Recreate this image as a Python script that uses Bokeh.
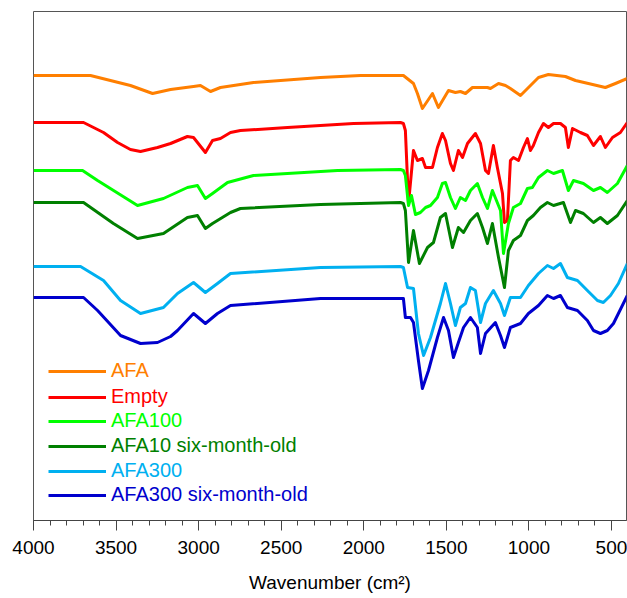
from bokeh.plotting import figure
from bokeh.models import Range1d, SingleIntervalTicker, Legend, LegendItem
from bokeh.embed import file_html
from bokeh.resources import INLINE

# ---------------- data (wavenumber in cm-1, offset transmittance in a.u.) ----------------
series_names = ["AFA", "Empty", "AFA100", "AFA10 six-month-old", "AFA300", "AFA300 six-month-old"]
series_colors = ["#FF7F00", "#FF0000", "#00FF00", "#008000", "#00B0F0", "#0000CD"]

wn_afa = [4000, 3655, 3413, 3279, 3170, 3031, 2989, 2928, 2868, 2668, 2262, 2020, 1778, 1760, 1699, 1675,
          1645, 1584, 1548, 1487, 1445, 1415, 1384, 1342, 1251, 1233, 1184, 1142, 1112, 1051, 942, 882,
          779, 718, 640, 537, 476, 404]
t_afa = [445, 445, 435, 427, 431, 434, 435, 429, 433, 438, 443, 445, 445, 445, 437, 427,
         412, 427, 413, 430, 428, 429, 427, 433, 433, 432, 437, 435, 432, 425, 443, 446,
         444, 440, 437, 433, 437, 442]

wn_empty = [4000, 3697, 3576, 3491, 3413, 3352, 3249, 3170, 3068, 3031, 2959, 2916, 2868, 2807, 2747, 2462,
            2062, 1778, 1760, 1748, 1729, 1699, 1675, 1645, 1626, 1584, 1554, 1524, 1505, 1475, 1457, 1427,
            1402, 1372, 1324, 1293, 1263, 1245, 1215, 1191, 1160, 1148, 1130, 1112, 1094, 1063, 1033, 1009,
            991, 973, 942, 912, 882, 851, 809, 779, 761, 736, 688, 646, 609, 567, 537, 494, 446, 404]
t_empty = [398, 398, 388, 378, 371, 369, 373, 377, 384, 383, 368, 380, 382, 388, 390, 393,
           397, 398, 397, 390, 317, 370, 360, 362, 353, 353, 373, 387, 380, 357, 350, 370,
           363, 377, 387, 377, 350, 347, 375, 353, 327, 298, 300, 360, 363, 360, 373, 382,
           370, 375, 388, 397, 393, 397, 397, 393, 373, 392, 388, 385, 375, 384, 373, 383, 388, 398]

wn_afa100 = [4000, 3703, 3612, 3370, 3213, 3068, 3007, 2959, 2916, 2825, 2668, 2159, 1778, 1760, 1748, 1729,
             1711, 1687, 1657, 1626, 1596, 1554, 1524, 1505, 1475, 1445, 1415, 1384, 1354, 1312, 1281, 1251,
             1221, 1172, 1154, 1124, 1094, 1051, 1009, 979, 942, 888, 851, 797, 761, 730, 670, 609,
             567, 525, 464, 404]
t_afa100 = [350, 350, 340, 315, 322, 333, 335, 322, 327, 338, 345, 350, 351, 350, 345, 315,
            325, 306, 308, 313, 315, 323, 337, 338, 323, 312, 323, 320, 330, 337, 323, 312,
            330, 310, 267, 297, 313, 317, 332, 333, 343, 350, 347, 350, 330, 340, 337, 330,
            333, 328, 337, 355]

wn_afa10_old = [4000, 3697, 3516, 3370, 3213, 3068, 3007, 2959, 2916, 2807, 2747, 2262, 1778, 1760, 1748, 1729,
                1699, 1663, 1614, 1578, 1536, 1505, 1463, 1427, 1396, 1354, 1312, 1281, 1251, 1221, 1184, 1148,
                1124, 1094, 1051, 1009, 973, 930, 888, 851, 791, 748, 718, 670, 609, 567, 525, 464, 404]
t_afa10_old = [318, 318, 297, 282, 287, 303, 305, 292, 297, 308, 312, 316, 318, 317, 310, 258,
               290, 257, 273, 278, 303, 307, 273, 293, 288, 300, 307, 293, 277, 297, 263, 233,
               270, 280, 285, 300, 305, 313, 318, 315, 318, 298, 310, 307, 298, 303, 297, 305, 320]

wn_afa300 = [4000, 3715, 3576, 3473, 3352, 3213, 3128, 3031, 2959, 2886, 2807, 2262, 1778, 1760, 1735, 1699,
             1669, 1638, 1596, 1536, 1505, 1475, 1445, 1415, 1384, 1354, 1324, 1293, 1263, 1215, 1172, 1148,
             1112, 1051, 1003, 942, 888, 851, 809, 767, 706, 646, 585, 549, 506, 458, 404]
t_afa300 = [254, 254, 240, 220, 207, 213, 227, 238, 228, 237, 247, 253, 254, 253, 233, 232,
            187, 165, 183, 217, 237, 217, 195, 213, 217, 233, 230, 198, 217, 230, 217, 205,
            223, 223, 235, 247, 255, 252, 257, 243, 240, 230, 220, 218, 225, 237, 257]

wn_afa300_old = [4000, 3697, 3612, 3473, 3352, 3249, 3170, 3128, 3031, 2959, 2886, 2807, 2262, 1778, 1760, 1748,
                 1717, 1699, 1669, 1645, 1608, 1554, 1517, 1487, 1457, 1427, 1396, 1354, 1312, 1293, 1263, 1203,
                 1172, 1148, 1112, 1051, 1003, 942, 888, 851, 809, 767, 706, 646, 609, 567, 525, 488, 404]
t_afa300_old = [223, 223, 210, 185, 177, 178, 184, 190, 207, 197, 207, 215, 222, 222, 222, 203,
                203, 198, 160, 132, 150, 183, 203, 190, 163, 178, 193, 203, 193, 167, 187, 198,
                185, 173, 193, 197, 207, 215, 225, 222, 225, 213, 210, 200, 190, 187, 190, 197, 225]

all_wn = [wn_afa, wn_empty, wn_afa100, wn_afa10_old, wn_afa300, wn_afa300_old]
all_t = [t_afa, t_empty, t_afa100, t_afa10_old, t_afa300, t_afa300_old]

x_ticks_interval = 500
x_title = "Wavenumber (cm\u00b2)"

# ---------------- figure ----------------
FONT = "Liberation Sans"
p = figure(width=627, height=598, output_backend="svg", toolbar_location=None,
           x_range=Range1d(4000, 409), y_range=Range1d(0, 509),
           min_border_left=33, min_border_right=1, min_border_top=11, min_border_bottom=78)

p.xgrid.visible = False
p.ygrid.visible = False
p.yaxis.visible = False
p.outline_line_color = "#555555"
p.outline_line_width = 1
p.background_fill_color = "white"
p.border_fill_color = "white"

renderers = []
for wn, t, c in zip(all_wn, all_t, series_colors):
    r = p.line(wn, t, line_color=c, line_width=3, line_join="round")
    renderers.append(r)

ax = p.xaxis[0]
ax.ticker = SingleIntervalTicker(interval=x_ticks_interval, num_minor_ticks=5)
ax.axis_line_color = "#444444"
ax.major_tick_line_color = "#444444"
ax.minor_tick_line_color = "#444444"
ax.major_tick_in = 0
ax.major_tick_out = 10
ax.minor_tick_in = 0
ax.minor_tick_out = 5
ax.major_label_text_font = FONT
ax.major_label_text_font_size = "19px"
ax.major_label_text_color = "black"
ax.major_label_standoff = 10
ax.axis_label = x_title
ax.axis_label_text_font = FONT
ax.axis_label_text_font_size = "19px"
ax.axis_label_text_font_style = "normal"
ax.axis_label_text_color = "black"
ax.axis_label_standoff = 15

# legend: one Legend per entry so each label takes its line's colour
legend_offsets = [138, 112, 88, 63, 38, 14]
for name, r, c, yoff in zip(series_names, renderers, series_colors, legend_offsets):
    lg = Legend(items=[LegendItem(label=name, renderers=[r])], location=(15, yoff),
                glyph_width=58, glyph_height=20, label_height=20, label_standoff=5,
                padding=0, margin=0, spacing=0, border_line_color=None,
                background_fill_alpha=0, label_text_color=c, label_text_font=FONT,
                label_text_font_size="20px")
    p.add_layout(lg, "center")

open("out.html", "w").write(file_html(p, INLINE))
